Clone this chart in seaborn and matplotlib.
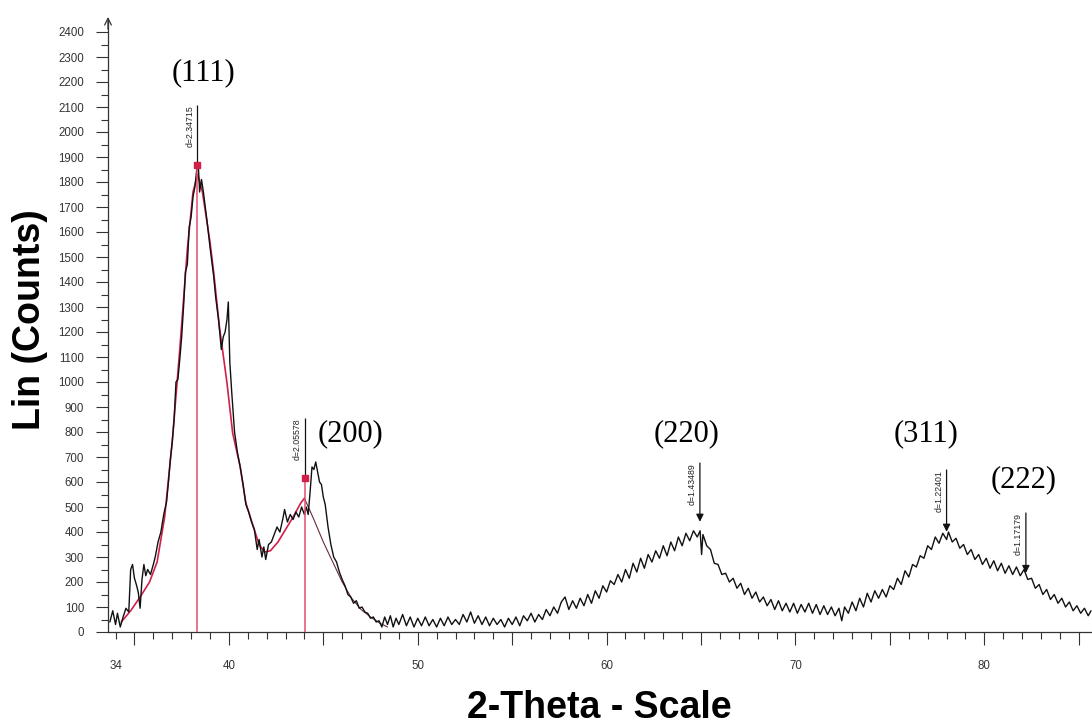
import matplotlib
matplotlib.use("Agg")
import matplotlib.pyplot as plt
import numpy as np
import pandas as pd
import seaborn as sns

# ---- measured diffraction trace (2-theta in degrees, intensity in counts) ----
two_theta = [
    33.70, 33.85, 34.00, 34.10, 34.25, 34.40, 34.55, 34.70, 34.80, 34.90,
    35.00, 35.10, 35.20, 35.30, 35.40, 35.50, 35.60, 35.70, 35.85, 36.00,
    36.10, 36.25, 36.40, 36.55, 36.70, 36.80, 36.90, 37.00, 37.10, 37.20,
    37.30, 37.40, 37.50, 37.60, 37.70, 37.80, 37.90, 38.00, 38.10, 38.20,
    38.30, 38.38, 38.45, 38.55, 38.65, 38.75, 38.85, 39.00, 39.10, 39.20,
    39.30, 39.45, 39.60, 39.70, 39.80, 39.90, 39.97, 40.05, 40.15, 40.30,
    40.45, 40.60, 40.75, 40.90, 41.05, 41.20, 41.35, 41.50, 41.60, 41.75,
    41.85, 41.95, 42.10, 42.25, 42.40, 42.55, 42.70, 42.85, 42.95, 43.10,
    43.25, 43.40, 43.55, 43.70, 43.85, 44.00, 44.10, 44.20, 44.30, 44.40,
    44.50, 44.60, 44.70, 44.80, 44.90, 45.00, 45.10, 45.25, 45.40, 45.55,
    45.70, 45.85, 46.00, 46.15, 46.30, 46.45, 46.60, 46.75, 46.90, 47.05,
    47.20, 47.35, 47.50, 47.65, 47.80, 47.95, 48.10, 48.25, 48.40, 48.55,
    48.70, 48.85, 49.00, 49.20, 49.40, 49.60, 49.80, 50.00, 50.20, 50.40,
    50.60, 50.80, 51.00, 51.20, 51.40, 51.60, 51.80, 52.00, 52.20, 52.40,
    52.60, 52.80, 53.00, 53.20, 53.40, 53.60, 53.80, 54.00, 54.20, 54.40,
    54.60, 54.80, 55.00, 55.20, 55.40, 55.60, 55.80, 56.00, 56.20, 56.40,
    56.60, 56.80, 57.00, 57.20, 57.40,
    57.60, 57.80, 58.00, 58.20, 58.40, 58.60, 58.80, 59.00, 59.20, 59.40,
    59.60, 59.80, 60.00, 60.20, 60.40, 60.60, 60.80, 61.00, 61.20, 61.40,
    61.60, 61.80, 62.00, 62.20, 62.40, 62.60, 62.80, 63.00, 63.20, 63.40,
    63.60, 63.80, 64.00, 64.20, 64.40, 64.60, 64.80, 64.95, 65.03, 65.10,
    65.30, 65.50, 65.70, 65.90, 66.10, 66.30, 66.50, 66.70, 66.90, 67.10,
    67.30, 67.50, 67.70, 67.90, 68.10, 68.30, 68.50, 68.70, 68.90, 69.10,
    69.30, 69.50, 69.70, 69.90, 70.10, 70.30, 70.50, 70.70, 70.90, 71.10,
    71.30, 71.50, 71.70, 71.90, 72.10, 72.30, 72.45, 72.60, 72.80, 73.00,
    73.20, 73.40, 73.60, 73.80, 74.00, 74.20, 74.40, 74.60, 74.80, 75.00,
    75.20, 75.40, 75.60, 75.80, 76.00, 76.20, 76.40, 76.60, 76.80, 77.00,
    77.20, 77.40, 77.60, 77.80, 78.00, 78.10, 78.30, 78.50, 78.70, 78.90,
    79.10, 79.30, 79.50, 79.70, 79.90, 80.10, 80.30, 80.50, 80.70, 80.90,
    81.10, 81.30, 81.50, 81.70, 81.90, 82.10, 82.30, 82.50, 82.70, 82.90,
    83.10, 83.30, 83.50, 83.70, 83.90, 84.10, 84.30, 84.50, 84.70, 84.90,
    85.10, 85.30, 85.50, 85.65,
]
counts = [
    40, 85, 30, 75, 20, 60, 95, 80, 250, 270,
    215, 190, 160, 95, 210, 270, 225, 250, 230, 270,
    300, 360, 400, 470, 520, 600, 690, 760, 850, 1000,
    1010, 1090, 1180, 1300, 1440, 1470, 1620, 1660, 1740, 1780,
    1850, 1870, 1760, 1810, 1760, 1700, 1640, 1540, 1480, 1420,
    1340, 1250, 1130, 1180, 1200, 1250, 1320, 1080, 960, 800,
    720, 660, 590, 510, 480, 440, 410, 330, 370, 300,
    340, 290, 350, 360, 390, 420, 400, 450, 490, 440,
    470, 450, 480, 460, 500, 470, 500, 470, 560, 660,
    650, 680, 640, 600, 590, 540, 510, 420, 350, 300,
    280, 240, 210, 185, 150, 140, 115, 125, 95, 100,
    80, 75, 55, 60, 40, 45, 20, 60, 30, 65,
    20, 55, 30, 70, 25, 60, 20, 55, 25, 60,
    25, 50, 20, 55, 25, 60, 30, 50, 30, 70,
    40, 80, 35, 65, 30, 60, 25, 55, 30, 50,
    20, 55, 30, 60, 25, 65, 45, 75, 40, 70,
    50, 90, 65, 100, 75,
    120, 140, 90, 125, 95, 135, 105, 150, 115, 165,
    135, 185, 160, 205, 190, 230, 200, 250, 215, 275,
    240, 295, 255, 310, 280, 325, 295, 345, 305, 360,
    325, 380, 345, 395, 365, 405, 380, 405, 310, 390,
    345, 330, 275, 270, 230, 235, 200, 215, 175, 195,
    150, 175, 135, 160, 120, 140, 105, 130, 90, 125,
    85, 115, 80, 115, 75, 110, 80, 115, 75, 110,
    70, 105, 70, 100, 65, 95, 45, 100, 75, 120,
    85, 135, 100, 155, 120, 165, 135, 170, 140, 185,
    170, 215, 190, 245, 220, 270, 260, 305, 295, 345,
    330, 380, 355, 395, 370, 400, 360, 375, 335, 350,
    310, 330, 290, 310, 270, 295, 255, 285, 245, 275,
    235, 265, 230, 260, 225, 250, 210, 215, 175, 190,
    150, 170, 130, 150, 115, 135, 100, 120, 85, 105,
    75, 95, 65, 85,
]
assert len(two_theta) == len(counts)

# ---- profile fit over the (111) and (200) region ----
fit_two_theta = [34.3, 34.8, 35.3, 35.8, 36.2, 36.6, 37.0, 37.4, 37.8, 38.1,
                 38.35, 38.6, 39.0, 39.2, 39.5, 39.9, 40.2, 40.6, 40.9, 41.3,
                 41.6, 41.9, 42.2, 42.6, 43.0, 43.4, 43.8, 44.0]
fit_counts = [40, 85, 140, 200, 280, 460, 760, 1130, 1530, 1760,
              1830, 1760, 1560, 1436, 1221, 996, 796, 661, 516, 420,
              350, 320, 325, 360, 410, 460, 515, 535]
tail_two_theta = [44.0, 44.5, 45.0, 45.5, 46.0, 46.5, 47.0, 47.5, 48.0, 48.4]
tail_counts = [535, 450, 360, 280, 200, 135, 90, 60, 35, 20]

# ---- peak search results ----
peak_two_theta = [38.32, 44.01, 64.94, 78.00, 82.20]
d_labels = ["d=2.34715", "d=2.05578", "d=1.43489", "d=1.22401", "d=1.17179"]
stick_top = [2108, 856, 676, 648, 476]
stick_tip = [1870, 616, 441, 401, 236]
fitted_peak = [True, True, False, False, False]

hkl_labels = ["(111)", "(200)", "(220)", "(311)", "(222)"]
hkl_two_theta = [38.68, 46.45, 64.23, 76.93, 82.06]
hkl_counts = [2236, 792, 792, 792, 608]

x_major_labels = ["", "40", "", "50", "", "60", "", "70", "", "80", ""]

# ---- styling ----
sns.set_theme(style="ticks")
plt.rcParams["font.family"] = ["Liberation Sans", "DejaVu Sans"]

RED = "#d21f4a"
DROP = "#e0506e"
INK = "#111111"

fig = plt.figure(figsize=(10.92, 7.24), dpi=100)
ax = fig.add_axes([108 / 1092, 92 / 724, 984 / 1092, 612 / 724])

trace = pd.DataFrame({"two_theta": two_theta, "counts": counts})
fit = pd.DataFrame({"two_theta": fit_two_theta, "counts": fit_counts})
tail = pd.DataFrame({"two_theta": tail_two_theta, "counts": tail_counts})

sns.lineplot(data=fit, x="two_theta", y="counts", color=RED, lw=1.2,
             estimator=None, sort=False, ax=ax, zorder=2)
sns.lineplot(data=tail, x="two_theta", y="counts", color="#6a2a3a", lw=0.8,
             estimator=None, sort=False, ax=ax, zorder=2)
sns.lineplot(data=trace, x="two_theta", y="counts", color=INK, lw=1.0,
             estimator=None, sort=False, ax=ax, zorder=3)

# peak sticks, markers and d-spacing labels
for x, lab, top, tip, fitted in zip(peak_two_theta, d_labels, stick_top,
                                    stick_tip, fitted_peak):
    if fitted:
        ax.vlines(x, 0, tip, color=DROP, lw=1.1, zorder=4)
        ax.vlines(x, tip, top, color=INK, lw=0.9, zorder=4)
        ax.plot([x], [tip], marker="s", ms=5, color=RED, mec=RED, zorder=5)
    else:
        ax.annotate("", xy=(x, tip), xytext=(x, top),
                    arrowprops=dict(arrowstyle="-|>", color=INK, lw=0.9,
                                    mutation_scale=11, shrinkA=0, shrinkB=0),
                    zorder=5)
    ax.annotate(lab, xy=(x, top), xytext=(-3, 0), textcoords="offset pixels",
                rotation=90, ha="right", va="top", fontsize=6.3, color="#222222")

for lab, x, y in zip(hkl_labels, hkl_two_theta, hkl_counts):
    ax.text(x, y, lab, ha="center", va="center", fontsize=22,
            family=["Liberation Serif", "DejaVu Serif"], color="black")

# axes
ax.set_xlim(33.6, 85.7)
ax.set_ylim(0, 2448)
for side in ("top", "right"):
    ax.spines[side].set_visible(False)
for side in ("left", "bottom"):
    ax.spines[side].set_color("#333333")
    ax.spines[side].set_linewidth(0.9)

ax.set_yticks(np.arange(0, 2401, 100))
ax.set_yticks(np.arange(50, 2400, 100), minor=True)
ax.set_xticks(np.arange(35, 86, 5), labels=x_major_labels)
minor_x = np.arange(34, 86, 1)
ax.set_xticks(minor_x, labels=["34" if v == 34 else "" for v in minor_x],
              minor=True)

ax.tick_params(axis="y", which="major", direction="out", length=8.6, width=0.8,
               pad=8.5, labelsize=8.3, color="#333333", labelcolor="#333333")
ax.tick_params(axis="y", which="minor", direction="out", length=5, width=0.8,
               color="#333333")
ax.tick_params(axis="x", which="major", direction="out", length=9.4, width=0.8,
               pad=10.5, labelsize=8.3, color="#333333", labelcolor="#333333")
ax.tick_params(axis="x", which="minor", direction="out", length=5, width=0.8,
               pad=14.9, labelsize=8.3, color="#333333", labelcolor="#333333")

# open arrowhead at the top of the intensity axis
ax.annotate("", xy=(0, 1.005), xytext=(0, 0.985), xycoords="axes fraction",
            arrowprops=dict(arrowstyle="->", color="#333333", lw=0.9,
                            mutation_scale=12, shrinkA=0, shrinkB=0),
            annotation_clip=False)

xl = ax.set_xlabel("2-Theta - Scale", fontsize=27, fontweight="bold",
                   color="black")
xl.set_va("baseline")
ax.xaxis.set_label_coords(0.499, -0.1405)

yl = ax.set_ylabel("Lin (Counts)", fontsize=27, fontweight="bold",
                   color="black")
yl.set_va("baseline")
yl.set_ha("center")
yl.set_rotation_mode("anchor")
ax.yaxis.set_label_coords(-0.0691, 0.51)

ax.set_facecolor("white")
fig.patch.set_facecolor("white")
fig.savefig("out.png", dpi=100)
